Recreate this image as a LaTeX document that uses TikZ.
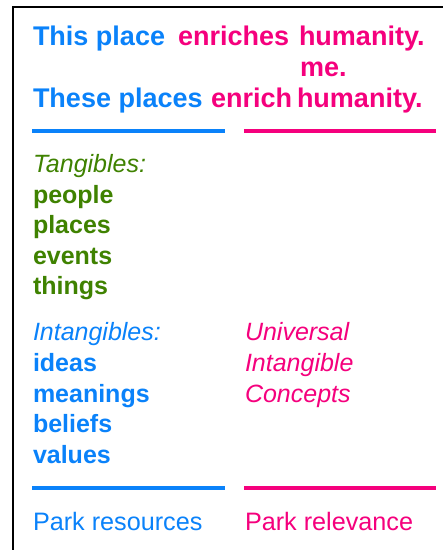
\documentclass[tikz,border=0pt]{standalone}
\usepackage{fontspec}
\setmainfont{Liberation Sans}
\definecolor{cblue}{HTML}{0A82FA}
\definecolor{cpink}{HTML}{F5007D}
\definecolor{cgreen}{HTML}{3F8200}
\begin{document}
\begin{tikzpicture}[x=1pt,y=-1pt,
  txt/.style={anchor=base west,inner sep=0pt,outer sep=0pt},
  ttl/.style={txt,font=\fontsize{27}{31}\selectfont\bfseries},
  itm/.style={txt,font=\fontsize{25}{30}\selectfont\bfseries},
  lbl/.style={txt,font=\fontsize{25}{30}\selectfont\itshape},
  ftr/.style={txt,font=\fontsize{25.2}{30}\selectfont},
  rule/.style={line width=4pt}]
\useasboundingbox (0,0) rectangle (443,550);
\fill[white] (0,0) rectangle (443,550);
% frame
\coordinate (fb) at (13,552);
\coordinate (fc) at (13,7);
\coordinate (fr) at (445,7);
\draw[line width=2pt] (fb) -- (fc) -- (fr);
% title
\node[ttl,text=cblue] (t1a) at (33,45) {This place};
\node[ttl,text=cpink] (t1b) at (178,45) {enriches};
\node[ttl,text=cpink] (t1c) at (299,45) {humanity.};
\node[ttl,text=cpink] (t2) at (300,76) {me.};
\node[ttl,text=cblue] (t3a) at (33,107) {These places};
\node[ttl,text=cpink] (t3b) at (211,107) {enrich};
\node[ttl,text=cpink] (t3c) at (297,107) {humanity.};
% top rules
\coordinate (b1a) at (32,130.5); \coordinate (b1b) at (225,130.5);
\coordinate (p1a) at (244,130.5); \coordinate (p1b) at (436,130.5);
\draw[rule,cblue] (b1a) -- (b1b);
\draw[rule,cpink] (p1a) -- (p1b);
% tangibles
\node[lbl,text=cgreen] (tg) at (33,172) {Tangibles:};
\node[itm,text=cgreen] (g1) at (33,203) {people};
\node[itm,text=cgreen] (g2) at (33,233) {places};
\node[itm,text=cgreen] (g3) at (33,264) {events};
\node[itm,text=cgreen] (g4) at (33,294) {things};
% intangibles
\node[lbl,text=cblue] (ig) at (33,340) {Intangibles:};
\node[itm,text=cblue] (i1) at (33,371) {ideas};
\node[itm,text=cblue] (i2) at (33,402) {meanings};
\node[itm,text=cblue] (i3) at (33,432) {beliefs};
\node[itm,text=cblue] (i4) at (33,463) {values};
% universal
\node[lbl,text=cpink] (u1) at (245,340) {Universal};
\node[lbl,text=cpink] (u2) at (245,371) {Intangible};
\node[lbl,text=cpink] (u3) at (245,402) {Concepts};
% bottom rules
\coordinate (b2a) at (32,488); \coordinate (b2b) at (225,488);
\coordinate (p2a) at (244,488); \coordinate (p2b) at (436,488);
\draw[rule,cblue] (b2a) -- (b2b);
\draw[rule,cpink] (p2a) -- (p2b);
% footer
\node[ftr,text=cblue] (f1) at (33,530) {Park resources};
\node[ftr,text=cpink] (f2) at (245,530) {Park relevance};
\end{tikzpicture}
\end{document}
